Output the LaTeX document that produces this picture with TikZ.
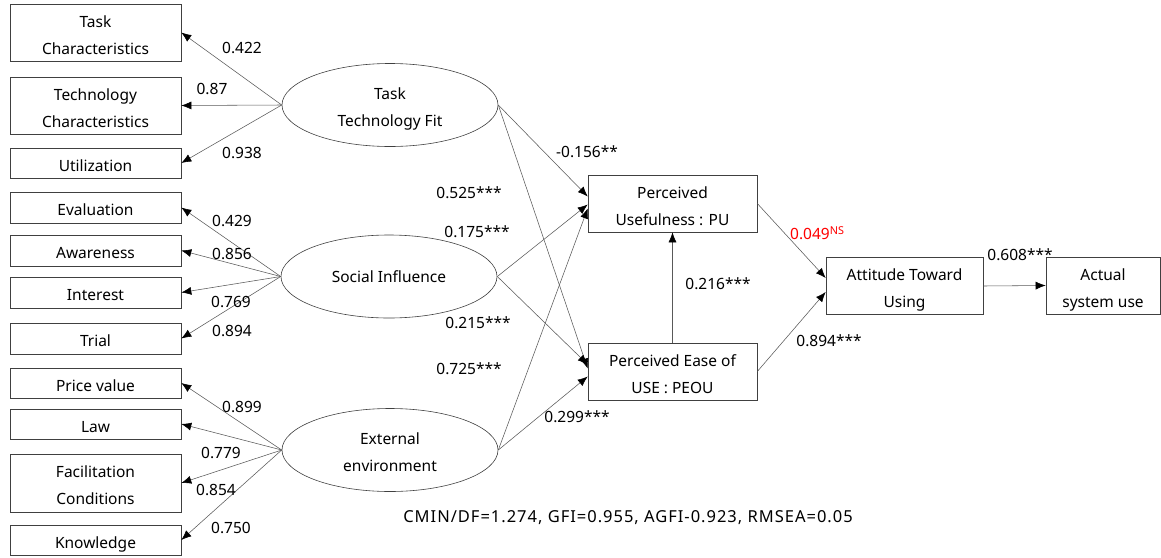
\documentclass[tikz,border=0pt]{standalone}
\usepackage{fontspec}
\setmainfont{Noto Sans}
\usetikzlibrary{arrows.meta,shapes.geometric,calc}

% box text: centred lines, set slightly below the box centre
\newcommand\bxt[1]{\raisebox{-3pt}[\height][\depth]{\begin{tabular}{@{}c@{}}#1\end{tabular}}}

\begin{document}
\begin{tikzpicture}[x=1pt,y=-1pt,
  txt/.style={font=\fontsize{15.5}{27}\selectfont},
  box/.style={txt, draw=black!75, line width=0.6pt, rectangle, inner sep=0pt},
  lbox/.style={box, minimum width=171, minimum height=#1},
  oval/.style={txt, draw=black!75, line width=0.6pt, ellipse, inner sep=0pt,
               minimum width=216, minimum height=83},
  link/.style={draw=black!65, line width=0.55pt, -{Latex[length=10pt,width=8pt,color=black]}},
  coef/.style={txt, inner sep=0pt}
]
\useasboundingbox (0,0) rectangle (1161,557);

% indicator boxes
\node[lbox=57] (tc)    at (95.5,32.5)  {\bxt{Task\\Characteristics}};
\node[lbox=57] (tec)   at (95.5,105.5) {\bxt{Technology\\Characteristics}};
\node[lbox=30] (util)  at (95.5,163)   {\bxt{Utilization}};
\node[lbox=31] (eval)  at (95.5,207.5) {\bxt{Evaluation}};
\node[lbox=31] (aware) at (95.5,250.5) {\bxt{Awareness}};
\node[lbox=31] (inter) at (95.5,292.5) {\bxt{Interest}};
\node[lbox=31] (trial) at (95.5,338.5) {\bxt{Trial}};
\node[lbox=30] (price) at (95.5,383)   {\bxt{Price value}};
\node[lbox=30] (law)   at (95.5,424)   {\bxt{Law}};
\node[lbox=58] (facil) at (95.5,483)   {\bxt{Facilitation\\Conditions}};
\node[lbox=30] (know)  at (95.5,540)   {\bxt{Knowledge}};

% latent constructs
\node[oval] (ttf) at (390,105)   {\bxt{Task\\Technology Fit}};
\node[oval] (si)  at (389,276.5) {Social Influence};
\node[oval] (ee)  at (390,450)   {\bxt{External\\environment}};

% structural model boxes
\node[box, minimum width=169, minimum height=57] (pu)   at (672.5,203.5) {\bxt{Perceived\\Usefulness : PU}};
\node[box, minimum width=169, minimum height=57] (peou) at (672.5,371.5) {\bxt{Perceived Ease of\\USE : PEOU}};
\node[box, minimum width=157, minimum height=57] (att)  at (904.5,286)   {\bxt{Attitude Toward\\Using}};
\node[box, minimum width=114, minimum height=57] (act)  at (1103,285.5)  {\bxt{Actual\\system use}};

% loadings
\draw[link] (ttf.west) -- (tc.east);
\draw[link] (ttf.west) -- (tec.east);
\draw[link] (ttf.west) -- (util.east);
\draw[link] (si.west) -- (eval.east);
\draw[link] (si.west) -- (aware.east);
\draw[link] (si.west) -- (inter.east);
\draw[link] (si.west) -- (trial.east);
\draw[link] (ee.west) -- (price.east);
\draw[link] (ee.west) -- (law.east);
\draw[link] (ee.west) -- (facil.east);
\draw[link] (ee.west) -- (know.east);

% entry points on the PU / PEOU / attitude boxes
\coordinate (pu1) at ($(pu.west)+(0,-7)$);
\coordinate (pu2) at ($(pu.west)+(0,1)$);
\coordinate (pu3) at ($(pu.west)+(0,5)$);
\coordinate (pe1) at ($(peou.west)+(0,-7)$);
\coordinate (pe2) at ($(peou.west)+(0,-3)$);
\coordinate (pe3) at ($(peou.west)+(0,5)$);
\coordinate (at1) at ($(att.west)+(0,-8)$);
\coordinate (at2) at ($(att.west)+(0,6)$);

% structural paths
\draw[link] (ttf.east) -- (pu1);
\draw[link] (ttf.east) -- (pe2);
\draw[link] (si.east) -- (pu2);
\draw[link] (si.east) -- (pe1);
\draw[link] (ee.east) -- (pu3);
\draw[link] (ee.east) -- (pe3);
\draw[link] (peou.north) -- (pu.south);
\draw[link] (pu.east) -- (at1);
\draw[link] (peou.east) -- (at2);
\draw[link] (att.east) -- (act.west);

% loading coefficients
\node[coef] at (242,48)  {0.422};
\node[coef] at (212,89)  {0.87};
\node[coef] at (242,153) {0.938};
\node[coef] at (232,221) {0.429};
\node[coef] at (232,254) {0.856};
\node[coef] at (231,302) {0.769};
\node[coef] at (232,331) {0.894};
\node[coef] at (242,407) {0.899};
\node[coef] at (221,453) {0.779};
\node[coef] at (216,490) {0.854};
\node[coef] at (231,528) {0.750};

% path coefficients
\node[coef] at (587,152) {-0.156**};
\node[coef] at (469,193) {0.525***};
\node[coef] at (477,232) {0.175***};
\node[coef] at (478,323) {0.215***};
\node[coef] at (469,369) {0.725***};
\node[coef] at (577,417) {0.299***};
\node[coef] at (718,284) {0.216***};
\node[coef, text=red, anchor=west] at (790,233) {0.049\textsuperscript{NS}};
\node[coef] at (829,341) {0.894***};
\node[coef] at (1020,255) {0.608***};

% fit indices
\node[coef, font=\fontsize{16.5}{27}\selectfont] at (628,518) {\addfontfeature{LetterSpace=6}CMIN/DF=1.274, GFI=0.955, AGFI-0.923, RMSEA=0.05};
\end{tikzpicture}
\end{document}
